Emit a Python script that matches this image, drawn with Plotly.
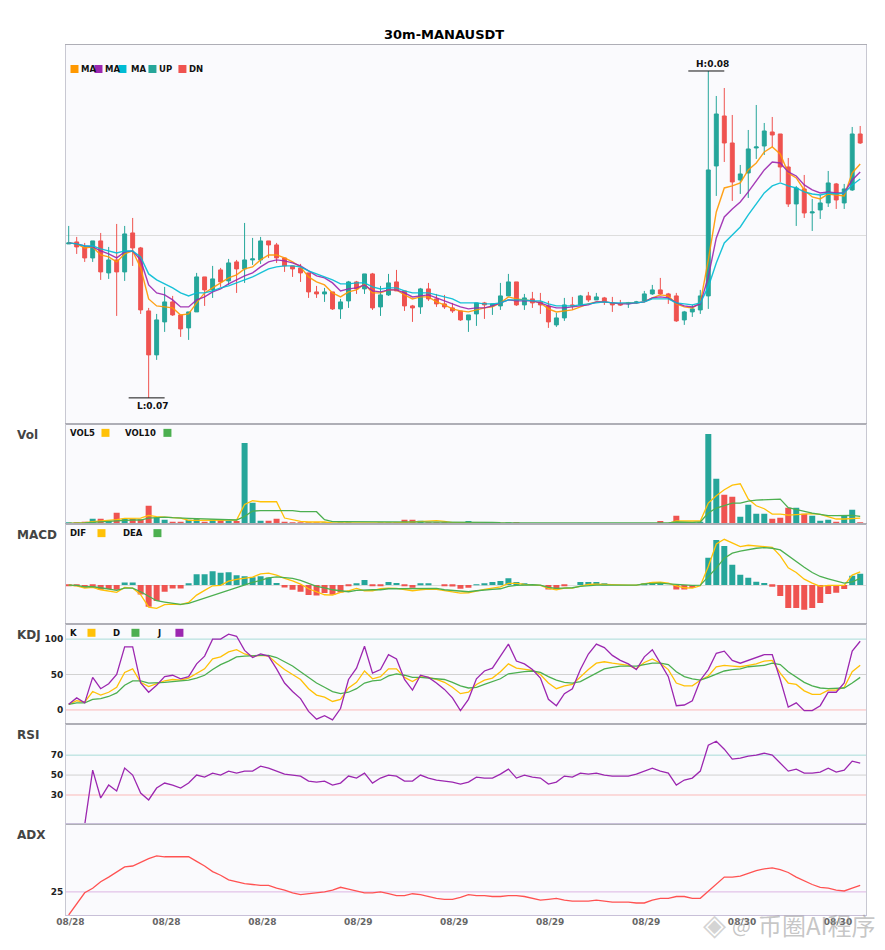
import plotly.graph_objects as go
from plotly.subplots import make_subplots
import numpy as np

# prices are kept in 1e-5 USDT
open_p = [7768,7772,7762,7740,7774,7710,7736,7712,7790,7760,7634,7546,7612,7652,7626,7600,7632,7702,7676,7716,
          7694,7732,7718,7736,7736,7774,7766,7740,7724,7720,7710,7672,7668,7672,7638,7654,7692,7678,7708,7642,
          7666,7692,7674,7644,7642,7678,7658,7648,7640,7634,7616,7628,7650,7644,7644,7664,7692,7646,7658,7652,
          7644,7606,7620,7646,7646,7664,7656,7660,7650,7648,7648,7650,7654,7668,7676,7668,7664,7616,7632,7636,
          7664,7924,8024,7970,7896,7910,7960,7964,7992,7988,7922,7848,7878,7830,7836,7850,7888,7850,7876,7988]
close_p = [7770,7762,7740,7774,7712,7736,7712,7788,7760,7636,7546,7616,7652,7626,7598,7632,7702,7676,7698,7692,
           7730,7718,7736,7738,7774,7766,7740,7724,7718,7710,7672,7668,7672,7638,7652,7692,7678,7708,7640,7666,
           7690,7674,7644,7640,7678,7658,7648,7642,7634,7616,7626,7650,7646,7648,7664,7692,7646,7660,7650,7646,
           7612,7620,7646,7644,7664,7656,7662,7652,7646,7646,7650,7652,7668,7676,7668,7662,7614,7632,7638,7664,
           7916,8028,7970,7892,7908,7958,7962,7994,7986,7922,7848,7880,7830,7832,7850,7890,7856,7878,7988,7970]
high_p = [7804,7782,7770,7774,7790,7762,7808,7804,7820,7762,7640,7628,7682,7664,7626,7632,7710,7702,7724,7720,
          7738,7736,7810,7780,7782,7774,7770,7740,7724,7728,7710,7684,7680,7672,7658,7694,7694,7708,7710,7684,
          7708,7716,7674,7646,7680,7690,7668,7666,7650,7634,7626,7650,7652,7648,7690,7708,7692,7668,7672,7670,
          7654,7630,7660,7662,7666,7672,7670,7662,7662,7656,7652,7654,7674,7686,7700,7670,7670,7634,7646,7676,
          8114,8064,8080,8026,7926,7996,8046,8010,8022,7988,7940,7884,7906,7858,7866,7914,7890,7888,8002,8004]
low_p = [7768,7748,7732,7732,7696,7698,7624,7694,7724,7628,7460,7536,7592,7624,7582,7576,7632,7644,7660,7682,
         7686,7670,7690,7726,7728,7740,7730,7712,7702,7692,7660,7660,7652,7636,7618,7640,7668,7668,7636,7624,
         7664,7674,7634,7612,7628,7654,7642,7638,7630,7614,7592,7604,7618,7626,7636,7664,7644,7636,7640,7628,
         7600,7602,7614,7636,7644,7652,7656,7646,7632,7644,7640,7648,7652,7666,7666,7648,7612,7606,7622,7628,
         7638,7864,7932,7854,7868,7860,7938,7946,7962,7892,7842,7804,7820,7794,7818,7842,7838,7838,7874,7968]
ma5 = [7770,7768,7760,7762,7746,7742,7732,7748,7754,7720,7658,7644,7642,7640,7626,7628,7650,7670,7680,7690,
       7700,7706,7718,7722,7736,7746,7746,7740,7732,7722,7702,7692,7686,7670,7662,7672,7676,7688,7670,7670,
       7676,7676,7666,7658,7662,7662,7652,7646,7638,7634,7632,7636,7640,7642,7650,7662,7658,7656,7654,7650,
       7638,7632,7634,7636,7642,7648,7652,7652,7650,7648,7650,7650,7652,7660,7666,7664,7648,7642,7640,7650,
       7736,7832,7880,7884,7890,7916,7930,7952,7962,7948,7910,7900,7876,7862,7858,7868,7866,7864,7910,7928]
ma10 = [7770,7768,7764,7762,7754,7748,7740,7752,7754,7736,7686,7670,7666,7656,7642,7642,7656,7662,7672,7678,
        7688,7696,7704,7710,7722,7732,7736,7734,7730,7724,7714,7704,7700,7690,7674,7678,7680,7686,7674,7672,
        7676,7676,7670,7662,7664,7666,7660,7654,7648,7642,7638,7640,7640,7644,7650,7656,7654,7654,7654,7650,
        7644,7640,7640,7642,7644,7646,7652,7652,7650,7648,7648,7650,7652,7660,7662,7660,7650,7644,7642,7648,
        7702,7780,7822,7838,7852,7872,7894,7916,7932,7930,7912,7904,7886,7876,7870,7872,7870,7870,7896,7912]
ma20 = [7770,7768,7764,7764,7758,7754,7750,7754,7754,7742,7708,7696,7688,7680,7670,7664,7670,7670,7674,7680,
        7684,7690,7696,7702,7710,7718,7722,7724,7724,7722,7714,7708,7702,7696,7688,7688,7690,7690,7682,7678,
        7680,7680,7674,7670,7670,7670,7666,7662,7658,7650,7650,7650,7648,7648,7650,7656,7656,7656,7654,7654,
        7648,7644,7644,7644,7646,7648,7650,7652,7650,7650,7650,7650,7652,7658,7658,7658,7650,7648,7646,7650,
        7682,7730,7770,7786,7802,7826,7848,7870,7884,7890,7884,7880,7872,7868,7866,7870,7868,7870,7886,7898]

vol = [4,3,8,17,17,10,35,17,17,15,56,20,14,8,8,14,16,8,14,12,
       10,10,245,65,11,11,17,8,5,4,4,4,4,2,3,3,2,2,2,3,
       4,3,14,14,11,6,6,5,2,3,10,3,3,3,2,3,3,2,2,2,
       2,2,2,2,2,2,2,2,2,2,2,2,2,2,10,2,26,7,5,8,
       272,137,89,83,23,59,32,32,17,20,50,50,32,26,11,14,8,25,44,5]
vol5 = [3,3,5,8,10,11,14,18,18,19,27,23,22,21,19,12,12,12,13,14,
        13,13,60,71,68,68,68,19,13,9,7,7,7,4,4,3,3,3,3,3,
        4,4,6,7,8,11,11,9,5,5,5,4,4,4,4,3,2,2,2,2,
        2,2,2,2,2,2,2,2,2,2,2,2,2,2,3,3,10,10,10,10,
        64,86,104,118,122,76,56,47,31,31,28,30,32,32,30,24,16,16,18,19]
vol10 = [3,3,4,6,8,9,11,12,13,13,19,20,22,20,20,18,17,16,16,16,
         14,13,24,40,41,41,41,41,41,38,38,38,14,8,8,8,7,6,6,6,
         6,6,6,6,6,6,6,6,6,6,6,6,6,6,5,4,4,4,4,4,
         4,4,4,4,4,4,4,4,4,4,4,4,4,4,4,4,7,6,6,7,
         34,49,56,64,64,70,73,74,75,76,50,44,38,34,30,26,26,26,27,24]

hist = [-1,-3,-8,-6,-14,-12,-14,8,8,-28,-65,-48,-20,-10,-10,3,33,33,42,37,
        39,30,27,24,27,23,6,-7,-14,-20,-30,-31,-24,-29,-22,-2,3,15,-2,-2,
        9,6,-2,-8,3,3,0,-2,-4,-11,-8,2,5,9,12,21,9,5,0,0,
        -13,-13,-2,0,9,9,9,5,0,0,0,0,5,9,9,0,-13,-13,-9,0,
        82,136,118,61,31,22,10,6,-5,-33,-69,-69,-74,-69,-54,-27,-23,-12,28,34]
dif = [0,-2,-9,-7,-14,-18,-22,-7,-9,-29,-66,-70,-59,-57,-59,-52,-30,-16,-2,-1,
       12,17,20,24,34,36,30,20,13,3,-11,-21,-29,-30,-22,-17,-10,-17,-17,-11,
       -9,-10,-14,-17,-14,-12,-13,-16,-19,-24,-23,-17,-13,-9,-5,5,5,2,1,-1,
       -10,-14,-9,-9,-3,2,3,2,0,0,0,0,5,8,9,6,-2,-8,-9,-2,
       56,124,138,127,116,120,118,117,114,88,52,38,18,6,-4,-1,-1,-1,30,40]
dea = [0,-1,-5,-5,-8,-13,-16,-9,-9,-20,-34,-47,-51,-55,-58,-55,-47,-38,-30,-22,
       -14,-6,0,8,14,22,25,22,20,14,6,-4,-8,-14,-17,-20,-16,-14,-14,-14,
       -11,-11,-11,-12,-11,-11,-10,-14,-16,-19,-20,-17,-14,-13,-11,-4,-1,1,1,0,
       -7,-10,-9,-8,-4,-1,0,0,0,0,0,0,4,6,6,4,2,0,-1,0,
       24,51,81,96,102,107,111,113,111,106,88,71,54,38,26,19,12,6,10,20]

k_line = [8,13,11,26,21,25,32,53,58,39,33,37,41,43,42,45,52,58,72,75,
          82,85,79,76,77,76,66,57,50,43,30,21,18,12,15,31,39,55,44,47,
          58,58,46,40,47,46,43,39,32,23,25,36,42,45,54,65,59,58,56,50,
          38,30,34,36,47,57,66,68,66,65,63,58,67,72,66,57,38,34,34,42,
          48,61,63,62,61,63,65,69,70,52,38,36,27,22,22,28,28,32,54,63]
d_line = [8,10,10,15,16,19,24,35,41,41,38,38,39,40,41,42,45,49,57,64,
          69,75,76,77,77,77,74,68,62,54,46,38,32,26,23,25,30,38,41,42,
          48,51,49,46,46,45,44,43,39,34,31,32,36,40,44,51,53,54,55,53,
          47,42,39,38,40,46,52,58,60,62,62,62,64,66,66,64,54,47,44,42,
          46,50,55,57,58,61,62,63,66,64,54,46,39,34,31,30,30,31,38,46]
j_line = [8,17,10,46,30,37,50,89,89,38,25,35,47,49,44,47,65,76,100,100,
          107,104,84,74,79,76,58,38,26,16,-2,-13,-8,-14,2,43,59,90,52,57,
          78,72,43,28,49,46,38,29,17,-1,15,44,55,59,76,93,69,65,57,45,
          15,6,23,30,57,79,93,88,77,70,65,57,75,85,66,47,6,7,13,42,
          57,80,83,70,66,70,73,78,78,43,4,10,-1,-1,6,25,25,38,83,97]

rsi = [None,None,0,55,27,40,34,57,50,32,25,37,42,40,37,42,50,48,52,50,
       54,52,54,54,59,57,54,51,50,49,44,43,44,40,42,49,47,52,42,47,
       50,49,44,44,50,47,45,44,43,41,43,48,47,47,51,56,47,50,48,47,
       41,43,49,48,52,51,52,50,49,49,49,51,54,57,54,52,40,45,47,54,
       80,84,76,66,67,69,70,72,70,62,54,56,52,52,53,57,53,55,64,62]
adx = [0,12,24,29,36,41,47,52,53,57,61,64,63,63,63,63,58,53,47,43,
       38,36,34,33,32,32,29,27,24,22,23,24,25,27,30,28,26,24,24,25,
       23,21,21,23,22,20,18,17,17,19,22,21,21,20,20,21,21,20,18,16,
       17,18,16,15,15,15,16,15,14,14,14,13,13,16,18,18,20,20,18,18,
       26,34,41,41,42,45,48,50,51,49,46,41,37,33,30,29,27,26,29,32]

tick_idx = [0,12,24,36,48,60,72,84,96]
tick_text = ['08/28','08/28','08/28','08/29','08/29','08/29','08/29','08/30','08/30']

GREEN = '#26a69a'
RED = '#ef5350'
YELLOW = '#ffc107'
IND_GREEN = '#4caf50'
PURPLE = '#9c27b0'

# pixel edges of the six panels, page coordinates
LEFT, RIGHT = 65.5, 866.0
edges = [45.0, 424.5, 524.5, 624.5, 724.5, 824.5, 915.3]
heights = [b - a for a, b in zip(edges[:-1], edges[1:])]
# the page body keeps its default 8px margin
BODY = 8


def px(x):
    return (x - LEFT) / (RIGHT - LEFT)


def py(y):
    return (edges[-1] - y) / (edges[-1] - edges[0])


x = list(range(len(open_p)))
to_price = lambda arr: (np.array(arr) / 1e5).tolist()
vol_colors = [GREEN if c >= o else RED for o, c in zip(open_p, close_p)]
hist_colors = [GREEN if h >= 0 else RED for h in hist]

fig = make_subplots(rows=6, cols=1, shared_xaxes=True, vertical_spacing=0, row_heights=heights)

fig.add_trace(go.Candlestick(
    x=x, open=to_price(open_p), high=to_price(high_p), low=to_price(low_p), close=to_price(close_p),
    increasing=dict(line=dict(color=GREEN, width=1), fillcolor=GREEN),
    decreasing=dict(line=dict(color=RED, width=1), fillcolor=RED),
    whiskerwidth=0, showlegend=False), row=1, col=1)
for vals, color in [(ma5, '#ff9800'), (ma10, PURPLE), (ma20, '#00bcd4')]:
    fig.add_trace(go.Scatter(x=x, y=to_price(vals), mode='lines', line=dict(color=color, width=1.4),
                             opacity=0.9), row=1, col=1)

fig.add_trace(go.Bar(x=x, y=vol, marker=dict(color=vol_colors, line_width=0), width=0.75), row=2, col=1)
fig.add_trace(go.Scatter(x=x, y=vol5, mode='lines', line=dict(color=YELLOW, width=1.3)), row=2, col=1)
fig.add_trace(go.Scatter(x=x, y=vol10, mode='lines', line=dict(color=IND_GREEN, width=1.3)), row=2, col=1)

fig.add_trace(go.Bar(x=x, y=hist, marker=dict(color=hist_colors, line_width=0), width=0.75), row=3, col=1)
fig.add_trace(go.Scatter(x=x, y=dif, mode='lines', line=dict(color=YELLOW, width=1.3)), row=3, col=1)
fig.add_trace(go.Scatter(x=x, y=dea, mode='lines', line=dict(color=IND_GREEN, width=1.3)), row=3, col=1)

for vals, color in [(k_line, YELLOW), (d_line, IND_GREEN), (j_line, PURPLE)]:
    fig.add_trace(go.Scatter(x=x, y=vals, mode='lines', line=dict(color=color, width=1.3)), row=4, col=1)
fig.add_trace(go.Scatter(x=x, y=rsi, mode='lines', line=dict(color=PURPLE, width=1.3)), row=5, col=1)
fig.add_trace(go.Scatter(x=x, y=adx, mode='lines', line=dict(color='#ff5252', width=1.3)), row=6, col=1)

# reference levels
TEAL_REF = '#a8dcd8'
GREY_REF = '#d2d2d2'
RED_REF = '#fbb9b8'
for row, level, color in [(4, 100, TEAL_REF), (4, 50, GREY_REF), (4, 0, RED_REF),
                          (5, 70, TEAL_REF), (5, 50, GREY_REF), (5, 30, RED_REF),
                          (6, 25, '#dcb6e4')]:
    fig.add_hline(y=level, line=dict(color=color, width=1), layer='below', row=row, col=1)

y_ranges = [[0.07407, 0.08166], [0, 301], [-118, 183], [-20.2, 120.9], [0.67, 101], [0, 98.2]]
y_ticks = [[0.07784], [], [0], [0, 50, 100], [30, 50, 70], [25]]
for i in range(6):
    labelled = i >= 3
    fig.update_yaxes(range=y_ranges[i], tickmode='array', tickvals=y_ticks[i], showticklabels=labelled,
                     showgrid=not labelled, gridcolor='#dddddd', gridwidth=1, zeroline=False,
                     showline=True, linecolor='#c8c8d2', linewidth=1, mirror=True, ticks='',
                     tickfont=dict(family='DejaVu Sans', size=9, color='#222222', weight='bold'),
                     row=i + 1, col=1)
    fig.update_xaxes(range=[-0.3375, 99.725], showgrid=False, zeroline=False, showline=True,
                     linecolor='#aeaeb6', linewidth=1, mirror=True, ticks='',
                     rangeslider_visible=False, row=i + 1, col=1)
fig.update_xaxes(tickmode='array', tickvals=[t + 0.22 for t in tick_idx], ticktext=tick_text,
                 showticklabels=True, ticklabelstandoff=-2,
                 tickfont=dict(family='DejaVu Sans', size=9, color='#666666', weight='bold'),
                 linecolor='#c8c0d8', row=6, col=1)

# high / low markers
hi = int(np.argmax(high_p))
lo = int(np.argmin(low_p))
for idx, val, text, shift in [(hi, high_p[hi], 'H:0.08', 6.6), (lo, low_p[lo], 'L:0.07', -8.4)]:
    fig.add_shape(type='line', x0=idx - 2.5, x1=idx + 2, y0=val / 1e5, y1=val / 1e5,
                  line=dict(color='#111111', width=1), row=1, col=1)
    fig.add_annotation(x=idx + 0.55, y=val / 1e5, text=text, showarrow=False, yshift=shift,
                       font=dict(family='DejaVu Sans', size=9, color='#111111', weight='bold'),
                       row=1, col=1)


def note(text, x_pos, y_pos, size=9, color='#111111', anchor='left', shift=-1):
    fig.add_annotation(xref='paper', yref='paper', x=px(x_pos), y=py(y_pos), text=text, showarrow=False,
                       xanchor=anchor, yanchor='middle', xshift=shift, borderpad=0,
                       font=dict(family='DejaVu Sans', size=size, color=color, weight='bold'))


def swatch(x_pos, y_mid, color):
    fig.add_shape(type='rect', xref='paper', yref='paper', x0=px(x_pos), x1=px(x_pos + 8),
                  y0=py(y_mid + 4), y1=py(y_mid - 4), fillcolor=color, line_width=0)


note('30m-MANAUSDT', 443.5, 34.5, size=13, color='#000000', anchor='center', shift=0)
for text, y_pos in [('Vol', 435.2), ('MACD', 535.2), ('KDJ', 635.2), ('RSI', 735.2), ('ADX', 835.2)]:
    note(text, 17, y_pos, size=12, color='#444444', shift=-2)

for text, tx, sx, color in [('MA', 81, 70, '#ff9800'), ('MA', 105, 94, PURPLE), ('MA', 131, 118, '#00bcd4'),
                            ('UP', 159, 148, GREEN), ('DN', 189, 178, RED)]:
    note(text, tx, 69, size=8.5)
    swatch(sx, 69, color)
for text, tx, sx, color in [('VOL5', 70, 101, YELLOW), ('VOL10', 125, 163, IND_GREEN)]:
    note(text, tx, 433.3, size=8.5)
    swatch(sx, 433, color)
for text, tx, sx, color in [('DIF', 70, 97, YELLOW), ('DEA', 123, 153, IND_GREEN)]:
    note(text, tx, 533.5, size=8.5)
    swatch(sx, 533.3, color)
for text, tx, sx, color in [('K', 70, 87, YELLOW), ('D', 113, 131, IND_GREEN), ('J', 157, 175, PURPLE)]:
    note(text, tx, 633.7, size=8.5)
    swatch(sx, 633, color)

# watermark
fig.add_annotation(xref='paper', yref='paper', x=px(878), y=py(924.5), text='币圈AI程序', showarrow=False,
                   xanchor='right', yanchor='middle',
                   font=dict(family='Noto Sans CJK SC', size=24, color='rgba(150,150,150,0.55)'))
fig.add_annotation(xref='paper', yref='paper', x=px(741), y=py(924.5), text='@', showarrow=False,
                   xanchor='center', yanchor='middle',
                   font=dict(family='Noto Sans CJK SC', size=20, color='rgba(150,150,150,0.55)'))
fig.add_annotation(xref='paper', yref='paper', x=px(714), y=py(925), text='◈', showarrow=False,
                   xanchor='center', yanchor='middle',
                   font=dict(family='DejaVu Sans', size=30, color='rgba(170,170,170,0.5)'))

fig.update_layout(
    width=885 - 2 * BODY, height=950 - 2 * BODY,
    margin=dict(l=LEFT - BODY, r=885 - BODY - RIGHT, t=edges[0] - BODY, b=950 - BODY - edges[-1], pad=0),
    paper_bgcolor='white', plot_bgcolor='#fafafd',
    showlegend=False, barmode='overlay', boxgap=0.3, bargap=0.25,
    font=dict(family='DejaVu Sans'),
)

fig.write_html("out.html")
